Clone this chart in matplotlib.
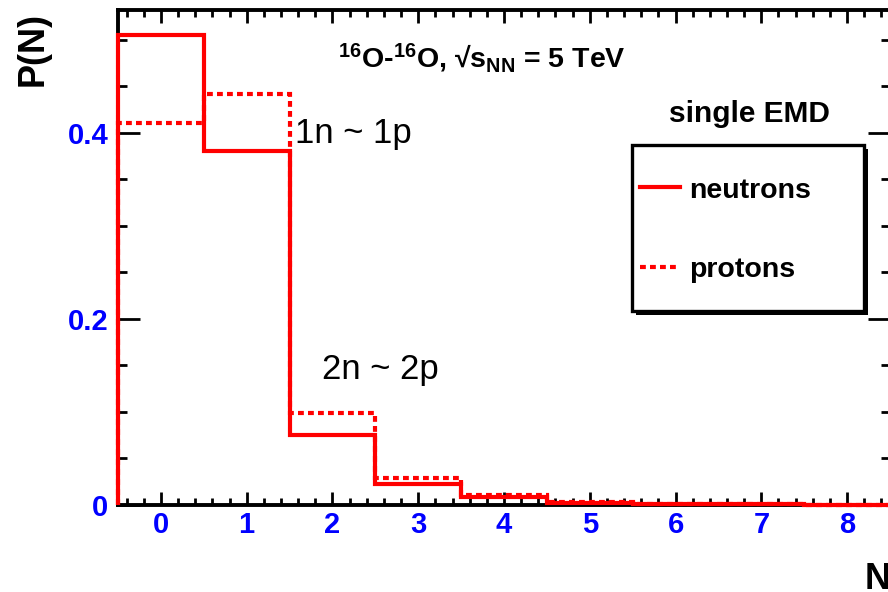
import numpy as np
import matplotlib
matplotlib.use("Agg")
import matplotlib.pyplot as plt
from matplotlib.ticker import MultipleLocator, FuncFormatter
from matplotlib.patches import Rectangle
from matplotlib.lines import Line2D

# number of emitted nucleons and probabilities (single EMD, O-O at 5 TeV)
n_values = np.array([0, 1, 2, 3, 4, 5, 6, 7, 8])
neutrons = [0.505, 0.380, 0.075, 0.023, 0.009, 0.0025, 0.001, 0.0006, 0.0004]
protons = [0.411, 0.442, 0.0985, 0.029, 0.011, 0.003, 0.001, 0.0006, 0.0004]

W, H = 888, 592
plt.rcParams['font.family'] = ['Liberation Sans', 'DejaVu Sans']
plt.rcParams['mathtext.fontset'] = 'custom'
plt.rcParams['mathtext.rm'] = 'Liberation Sans:bold'
plt.rcParams['mathtext.it'] = 'Liberation Sans:bold'
plt.rcParams['mathtext.bf'] = 'Liberation Sans:bold'


def px(x, y):
    # pixel position (from top-left) -> figure fraction
    return x / W, 1 - y / H


fig = plt.figure(figsize=(W / 100, H / 100), dpi=100)
ax = fig.add_axes([118 / W, 87 / H, 772 / W, 495 / H])

edges = np.append(n_values - 0.5, n_values[-1] + 0.5)
red = '#ff0000'
dash = (0, (1.4, 1.0))

ax.stairs(neutrons, edges, baseline=0, color=red, lw=3, zorder=3, clip_on=False)
ax.stairs(protons, edges, baseline=0, color=red, lw=3, linestyle=dash, zorder=3, clip_on=False)

ax.set_xlim(-0.5, 8.5)
ax.set_ylim(0, 0.532)

ax.xaxis.set_major_locator(MultipleLocator(1))
ax.xaxis.set_minor_locator(MultipleLocator(0.2))
ax.yaxis.set_major_locator(MultipleLocator(0.2))
ax.yaxis.set_minor_locator(MultipleLocator(0.05))
ax.yaxis.set_major_formatter(FuncFormatter(lambda v, p: f"{v:g}"))

ax.tick_params(axis='both', which='both', direction='in', top=True, right=True,
               width=2, color='black')
ax.tick_params(axis='x', which='major', length=9.5, pad=4.5)
ax.tick_params(axis='x', which='minor', length=4.8)
ax.tick_params(axis='y', which='major', length=15.5, pad=7)
ax.tick_params(axis='y', which='minor', length=6.7)
for lab in ax.get_xticklabels() + ax.get_yticklabels():
    lab.set_color('#0000ff')
    lab.set_fontweight('bold')
    lab.set_fontsize(21)

for sp in ax.spines.values():
    sp.set_linewidth(2.8)

# axis titles
fig.text(*px(33, 12), 'P(N)', rotation=90, ha='center', va='top',
         fontsize=26, fontweight='bold')
fig.text(*px(865, 562), 'N', ha='left', va='top', fontsize=26, fontweight='bold')

# labels on the plot
fig.text(*px(338, 68), r'$^{16}$O-$^{16}$O, √s$_{\mathrm{NN}}$ = 5 TeV',
         ha='left', va='baseline', fontsize=20.5, fontweight='bold')
fig.text(*px(295, 143), '1n ~ 1p', ha='left', va='baseline', fontsize=25)
fig.text(*px(322, 379), '2n ~ 2p', ha='left', va='baseline', fontsize=25)

# legend box drawn by hand (ROOT style with shadow)
bx0, bx1, by0, by1 = 632, 864, 145, 311
shadow = Rectangle(px(bx0 + 4, by1 + 4), (bx1 - bx0) / W, (by1 - by0) / H,
                   transform=fig.transFigure, facecolor='black', edgecolor='black', lw=0)
box = Rectangle(px(bx0, by1), (bx1 - bx0) / W, (by1 - by0) / H,
                transform=fig.transFigure, facecolor='white', edgecolor='black', lw=2.4)
fig.add_artist(shadow)
fig.add_artist(box)
fig.text(*px(749, 122), 'single EMD', ha='center', va='baseline',
         fontsize=21.5, fontweight='bold')

for y_line, y_text, label, ls in [(187, 198, 'neutrons', '-'), (267, 277, 'protons', dash)]:
    x0, y0 = px(640, y_line)
    x1, _ = px(680, y_line)
    fig.add_artist(Line2D([x0, x1], [y0, y0], transform=fig.transFigure,
                          color=red, lw=3, linestyle=ls))
    fig.text(*px(689, y_text), label, ha='left', va='baseline',
             fontsize=20.5, fontweight='bold')

fig.savefig('out.png', dpi=100, facecolor='white')
